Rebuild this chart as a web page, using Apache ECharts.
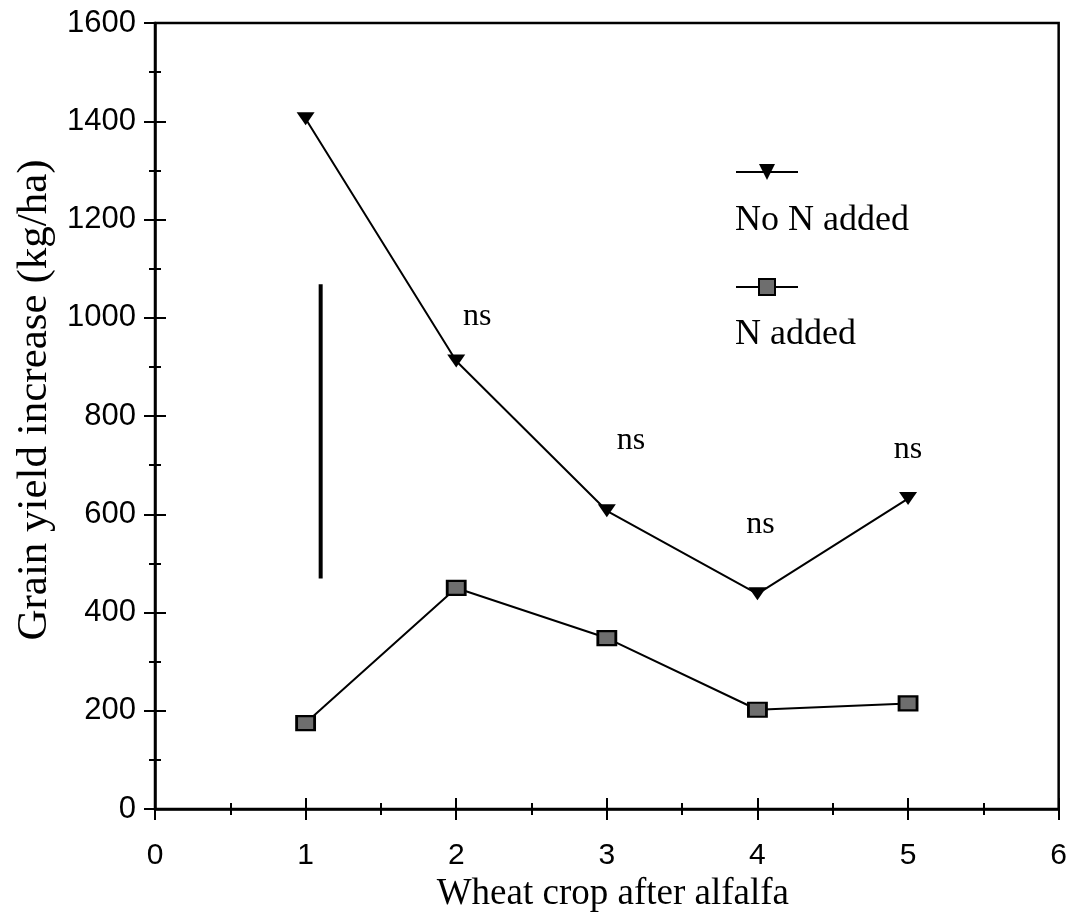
<!DOCTYPE html>
<html>
<head>
<meta charset="utf-8">
<script src="https://cdn.jsdelivr.net/npm/echarts@6/dist/echarts.min.js"></script>
<style>
html,body{margin:0;padding:0;background:#fff;}
#chart{width:1070px;height:919px;}
</style>
</head>
<body>
<div id="chart"></div>
<script>
// ---- data ----
const cropNumbers = [1, 2, 3, 4, 5];
const noNAdded = [1405, 912, 607, 438, 632];
const nAdded = [175, 450, 348, 202, 215];
const lsdBarX = [1.1, 1.1];
const lsdBarY = [1068, 469];
const nsX = [2.14, 3.16, 4.02, 5.0];
const nsY = [1003, 749, 578, 731];
const nsText = ['ns', 'ns', 'ns', 'ns'];
const seriesNames = ['No N added', 'N added'];
const xTitle = 'Wheat crop after alfalfa';
const yTitle = 'Grain yield increase (kg/ha)';

const SERIF = '"Liberation Serif", "Times New Roman", serif';
const SANS = '"Liberation Sans", Arial, Helvetica, sans-serif';

const chart = echarts.init(document.getElementById('chart'), null, {renderer: 'canvas'});

function zip(xs, ys) { return xs.map((x, i) => [x, ys[i]]); }

const tickLine = {color: '#000', width: 2};
// kind: 'main' (line + labels + name), 'major' (crossing major ticks), 'minor' (crossing minor ticks)
function xAxisDef(kind) {
  const main = kind === 'main';
  return {
    type: 'value', min: 0, max: 6, interval: 1, position: 'bottom',
    offset: kind === 'major' ? -11 : (kind === 'minor' ? -6 : 0),
    name: main ? xTitle : '', nameLocation: 'middle', nameGap: 58,
    nameTextStyle: {fontFamily: SERIF, fontSize: 37, color: '#000', padding: [0, 0, 0, 12]},
    axisLine: {show: main, lineStyle: {color: '#000', width: 2.5}},
    axisTick: {show: kind === 'major', inside: false, length: 22, lineStyle: tickLine},
    minorTick: {show: kind === 'minor', splitNumber: 2, length: 12, lineStyle: tickLine},
    axisLabel: {show: main, margin: 32, fontFamily: SANS, fontSize: 30, color: '#000',
                formatter: function (v) { return String(v); }},
    splitLine: {show: false}, minorSplitLine: {show: false}
  };
}
function yAxisDef(kind) {
  const main = kind === 'main';
  return {
    type: 'value', min: 0, max: 1600, interval: 200, position: 'left',
    offset: kind === 'major' ? -11 : (kind === 'minor' ? -6 : 0),
    name: main ? yTitle : '', nameLocation: 'middle', nameGap: 96,
    nameTextStyle: {fontFamily: SERIF, fontSize: 43, color: '#000', padding: [0, 0, 0, 32]},
    axisLine: {show: main, lineStyle: {color: '#000', width: 2.5}},
    axisTick: {show: kind === 'major', inside: false, length: 22, lineStyle: tickLine},
    minorTick: {show: kind === 'minor', splitNumber: 2, length: 12, lineStyle: tickLine},
    axisLabel: {show: main, margin: 19, fontFamily: SANS, fontSize: 31, color: '#000',
                formatter: function (v) { return String(v); }},
    splitLine: {show: false}, minorSplitLine: {show: false}
  };
}

const option = {
  animation: false,
  backgroundColor: '#fff',
  grid: {left: 155, right: 9, top: 23, bottom: 110, show: true, borderColor: '#000', borderWidth: 2.5, backgroundColor: 'transparent'},
  xAxis: [xAxisDef('main'), xAxisDef('major'), xAxisDef('minor')],
  yAxis: [yAxisDef('main'), yAxisDef('major'), yAxisDef('minor')],
  legend: [
    {data: [seriesNames[0]], left: 735, top: 162, padding: 0, itemWidth: 62, itemHeight: 20,
     formatter: function () { return ''; }, selectedMode: false},
    {data: [seriesNames[1]], left: 735, top: 277, padding: 0, itemWidth: 62, itemHeight: 20,
     formatter: function () { return ''; }, selectedMode: false}
  ],
  graphic: [
    {type: 'text', left: 735, top: 203, style: {text: seriesNames[0], font: '36px ' + SERIF, fill: '#000'}},
    {type: 'text', left: 735, top: 317, style: {text: seriesNames[1], font: '36px ' + SERIF, fill: '#000'}}
  ],
  series: [
    {
      name: seriesNames[0], type: 'line', xAxisIndex: 0, yAxisIndex: 0,
      data: zip(cropNumbers, noNAdded),
      symbol: 'triangle', symbolRotate: 180, symbolSize: [18, 13],
      itemStyle: {color: '#000'},
      lineStyle: {color: '#000', width: 2}, z: 3
    },
    {
      name: seriesNames[1], type: 'line', xAxisIndex: 0, yAxisIndex: 0,
      data: zip(cropNumbers, nAdded),
      symbol: 'rect', symbolSize: [18, 14],
      itemStyle: {color: '#6e6e6e', borderColor: '#000', borderWidth: 2.5},
      lineStyle: {color: '#000', width: 2}, z: 3
    },
    {
      name: 'LSD', type: 'line', xAxisIndex: 0, yAxisIndex: 0,
      data: zip(lsdBarX, lsdBarY), symbol: 'none',
      lineStyle: {color: '#000', width: 4}, silent: true
    },
    {
      name: 'ns', type: 'scatter', xAxisIndex: 0, yAxisIndex: 0,
      data: nsX.map((x, i) => ({value: [x, nsY[i]], label: {formatter: nsText[i]}})),
      symbolSize: 0, silent: true,
      itemStyle: {opacity: 1, color: '#000'},
      label: {show: true, position: 'inside', fontFamily: SERIF, fontSize: 32, color: '#000', opacity: 1}
    }
  ]
};
chart.setOption(option);
</script>
</body>
</html>
